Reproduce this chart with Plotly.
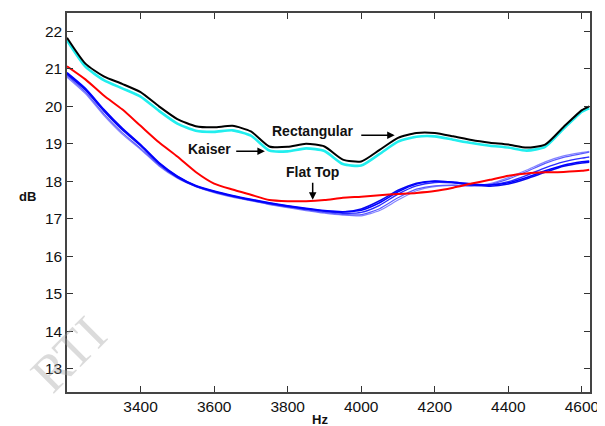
import plotly.graph_objects as go

freq = [3200, 3250, 3300, 3350, 3400, 3450, 3500, 3550, 3600, 3650, 3700, 3750,
        3800, 3850, 3900, 3950, 4000, 4050, 4100, 4150, 4200, 4250, 4300, 4350,
        4400, 4450, 4500, 4550, 4600, 4620]

rectangular = [21.83, 21.14, 20.80, 20.60, 20.38, 20.00, 19.66, 19.47, 19.44, 19.48, 19.33, 18.93,
               18.92, 19.00, 18.93, 18.58, 18.53, 18.84, 19.16, 19.29, 19.29, 19.20, 19.10, 19.03,
               18.98, 18.90, 18.98, 19.45, 19.90, 20.00]

kaiser = [21.76, 21.06, 20.70, 20.48, 20.26, 19.88, 19.54, 19.35, 19.32, 19.36, 19.22, 18.82,
          18.80, 18.88, 18.81, 18.46, 18.42, 18.73, 19.06, 19.19, 19.20, 19.11, 19.02, 18.95,
          18.90, 18.82, 18.92, 19.40, 19.86, 19.95]

flat_top = [21.07, 20.72, 20.29, 19.92, 19.48, 19.04, 18.66, 18.25, 17.94, 17.78, 17.64, 17.50,
            17.47, 17.47, 17.50, 17.56, 17.59, 17.63, 17.66, 17.69, 17.74, 17.83, 17.94, 18.04,
            18.15, 18.21, 18.24, 18.25, 18.28, 18.31]

blue_a = [20.90, 20.48, 19.92, 19.42, 18.98, 18.50, 18.14, 17.89, 17.74, 17.62, 17.52, 17.43,
          17.35, 17.28, 17.22, 17.19, 17.23, 17.43, 17.72, 17.93, 18.00, 17.98, 17.93, 17.90,
          17.96, 18.10, 18.28, 18.43, 18.52, 18.54]
blue_b = [20.86, 20.44, 19.88, 19.38, 18.95, 18.47, 18.11, 17.87, 17.72, 17.60, 17.50, 17.41,
          17.33, 17.26, 17.21, 17.18, 17.26, 17.48, 17.76, 17.95, 18.01, 17.97, 17.90, 17.87,
          17.93, 18.07, 18.24, 18.40, 18.49, 18.51]
blue_c = [20.82, 20.38, 19.80, 19.30, 18.88, 18.43, 18.10, 17.87, 17.71, 17.59, 17.49, 17.39,
          17.31, 17.24, 17.17, 17.12, 17.11, 17.27, 17.56, 17.79, 17.88, 17.90, 17.88, 17.92,
          18.06, 18.26, 18.48, 18.64, 18.74, 18.78]
blue_d = [20.78, 20.34, 19.76, 19.26, 18.85, 18.41, 18.08, 17.86, 17.70, 17.58, 17.48, 17.38,
          17.30, 17.22, 17.15, 17.10, 17.08, 17.22, 17.50, 17.75, 17.86, 17.89, 17.88, 17.94,
          18.10, 18.30, 18.52, 18.68, 18.77, 18.80]
blue_e = [20.88, 20.46, 19.90, 19.40, 18.97, 18.49, 18.13, 17.88, 17.73, 17.61, 17.51, 17.42,
          17.34, 17.27, 17.20, 17.15, 17.17, 17.36, 17.66, 17.88, 17.97, 17.96, 17.91, 17.90,
          17.99, 18.16, 18.36, 18.52, 18.62, 18.65]

x_ticks = [3400, 3600, 3800, 4000, 4200, 4400, 4600]
y_ticks = [13, 14, 15, 16, 17, 18, 19, 20, 21, 22]

fig = go.Figure()

def add(y, color, width):
    fig.add_trace(go.Scatter(x=freq, y=y, mode="lines",
                             line=dict(color=color, width=width, shape="spline", smoothing=0.6),
                             showlegend=False, hoverinfo="skip"))

add(blue_d, "#8484ff", 1.2)
add(blue_c, "#5a5aff", 1.2)
add(blue_e, "#2a2aff", 1.4)
add(blue_b, "#0a0af0", 1.6)
add(blue_a, "#0000ff", 1.6)
add(flat_top, "#ff0000", 2)
add(kaiser, "#22eeee", 2.6)
add(rectangular, "#000000", 2)

lab_font = dict(family="Liberation Sans, Arial, sans-serif", size=14, color="#111")
ann = []
# Watermark
ann.append(dict(xref="paper", yref="paper", x=(68 - 67) / 523, y=(392 - 354) / 379, text="RTI",
                showarrow=False, xanchor="center", yanchor="middle",
                textangle=-45, font=dict(family="Liberation Serif, serif", size=52,
                                         color="rgba(160,160,160,0.38)")))
ann.append(dict(x=3868, y=19.35, text="<b>Rectangular</b>", showarrow=False, font=lab_font))
ann.append(dict(x=4091, y=19.23, ax=3996, ay=19.23, axref="x", ayref="y", text="",
                showarrow=True, arrowhead=2, arrowsize=1, arrowwidth=1.5, arrowcolor="#000"))
ann.append(dict(x=3588, y=18.85, text="<b>Kaiser</b>", showarrow=False, font=lab_font))
ann.append(dict(x=3738, y=18.80, ax=3656, ay=18.80, axref="x", ayref="y", text="",
                showarrow=True, arrowhead=2, arrowsize=1, arrowwidth=1.5, arrowcolor="#000"))
ann.append(dict(x=3868, y=18.24, text="<b>Flat Top</b>", showarrow=False, font=lab_font))
ann.append(dict(x=3868, y=17.51, ax=3868, ay=18.0, axref="x", ayref="y", text="",
                showarrow=True, arrowhead=2, arrowsize=1, arrowwidth=1.5, arrowcolor="#000"))
# axis titles
ann.append(dict(xref="paper", yref="paper", x=(27 - 67) / 523, y=(392 - 196) / 379,
                text="<b>dB</b>", showarrow=False, xanchor="center", yanchor="middle",
                font=dict(family="Liberation Sans, Arial, sans-serif", size=13, color="#111")))
ann.append(dict(xref="paper", yref="paper", x=(320 - 67) / 523, y=(392 - 419) / 379,
                text="<b>Hz</b>", showarrow=False, xanchor="center", yanchor="middle",
                font=dict(family="Liberation Sans, Arial, sans-serif", size=13, color="#111")))

tick_font = dict(family="Liberation Sans, Arial, sans-serif", size=15.5, color="#111")
# The page body has an 8px margin, so the figure is offset by 8px; compensate here.
fig.update_layout(
    width=597, height=418,
    margin=dict(l=59, r=15, t=5, b=34, autoexpand=False),
    paper_bgcolor="white", plot_bgcolor="white",
    annotations=ann,
    xaxis=dict(range=[3200, 4622], tickvals=x_ticks, ticks="inside", ticklen=6, tickwidth=1.2,
               tickcolor="#333", showline=True, linecolor="#444", linewidth=1.5, mirror="ticks",
               showgrid=False, zeroline=False, tickfont=tick_font),
    yaxis=dict(range=[12.38, 22.49], tickvals=y_ticks, ticks="inside", ticklen=6, tickwidth=1.2,
               tickcolor="#333", showline=True, linecolor="#444", linewidth=1.5, mirror="ticks",
               showgrid=False, zeroline=False, tickfont=tick_font),
)

fig.write_html("out.html")
